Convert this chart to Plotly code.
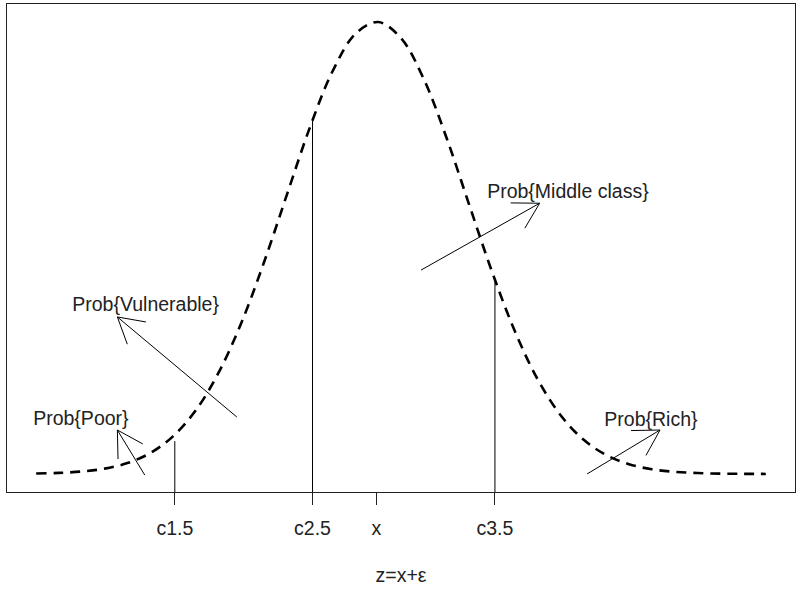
import math
import plotly.graph_objects as go

# ---------------- data ----------------
z_grid = [-4.0, -3.75, -3.5, -3.25, -3.0, -2.75, -2.5, -2.25, -2.0, -1.75, -1.5,
          -1.25, -1.0, -0.75, -0.5, -0.25, 0.0, 0.25, 0.5, 0.75, 1.0, 1.25, 1.5,
          1.75, 2.0, 2.25, 2.5, 2.75, 3.0, 3.25, 3.5, 3.75, 4.0]
density = [0.00038, 0.000936, 0.002166, 0.004707, 0.009608, 0.01843, 0.03321,
           0.0562, 0.08937, 0.1335, 0.1873, 0.2468, 0.3057, 0.3555, 0.3885,
           0.3989, 0.3847, 0.3485, 0.2966, 0.2371, 0.1781, 0.1257, 0.0833,
           0.05187, 0.03034, 0.01667, 0.008605, 0.004173, 0.001901, 0.000813,
           0.000327, 0.000124, 0.0000439]

tick_vals = [-2.48, -0.97, -0.27, 1.03]
tick_text = ["c1.5", "c2.5", "x", "c3.5"]

cut_z = [-2.48, -0.97, 1.03]
cut_height = [0.029, 0.312, 0.171]

labels = ["Prob{Poor}", "Prob{Vulnerable}", "Prob{Middle class}", "Prob{Rich}"]
label_z = [-3.51, -2.80, 1.83, 2.74]
label_y = [0.0478, 0.1485, 0.2475, 0.0469]

arrow_tail_z = [-2.81, -1.80, 0.22, 2.04]
arrow_tail_y = [-0.0009, 0.0503, 0.180, 0.0000]
arrow_tip_z = [-3.11, -3.11, 1.52, 2.84]
arrow_tip_y = [0.0388, 0.1386, 0.239, 0.0388]

# ---------------- layout geometry ----------------
W, H = 801, 589
L, R, T, B = 7, 6, 4, 97
PW, PH = W - L - R, H - T - B

zmin, zmax = min(z_grid), max(z_grid)
XR = [zmin - 0.04 * (zmax - zmin), zmax + 0.04 * (zmax - zmin)]
ymin, ymax = min(density), max(density)
YR = [ymin - 0.04 * (ymax - ymin), ymax + 0.04 * (ymax - ymin)]


def to_px(z, y):
    return (L + (z - XR[0]) / (XR[1] - XR[0]) * PW,
            T + (YR[1] - y) / (YR[1] - YR[0]) * PH)


def from_px(x, y):
    return (XR[0] + (x - L) / PW * (XR[1] - XR[0]),
            YR[1] - (y - T) / PH * (YR[1] - YR[0]))


FONT = "Liberation Sans, Arial, sans-serif"
FS = 19.5
TXT = "#222222"
fig = go.Figure()

# density curve
fig.add_trace(go.Scatter(x=z_grid, y=density, mode="lines",
                         line=dict(color="black", width=2.6, dash="10px,7px", shape="spline"),
                         hoverinfo="skip"))

# cut-off vertical lines
vx, vy = [], []
for c, h in zip(cut_z, cut_height):
    vx += [c, c, None]
    vy += [YR[0] - 0.02, h, None]
fig.add_trace(go.Scatter(x=vx, y=vy, mode="lines", line=dict(color="black", width=1),
                         hoverinfo="skip"))

# arrows (R-style open heads)
ax, ay = [], []
HEAD = 29
ANG = math.radians(30)
for sz, sy, tz, ty in zip(arrow_tail_z, arrow_tail_y, arrow_tip_z, arrow_tip_y):
    ax += [sz, tz, None]
    ay += [sy, ty, None]
    sx_p, sy_p = to_px(sz, sy)
    tx_p, ty_p = to_px(tz, ty)
    th = math.atan2(sy_p - ty_p, sx_p - tx_p)
    for s in (-1, 1):
        hx = tx_p + HEAD * math.cos(th + s * ANG)
        hy = ty_p + HEAD * math.sin(th + s * ANG)
        dz, dy = from_px(hx, hy)
        ax += [tz, dz, None]
        ay += [ty, dy, None]
fig.add_trace(go.Scatter(x=ax, y=ay, mode="lines", line=dict(color="black", width=1),
                         hoverinfo="skip"))

# labels
fig.add_trace(go.Scatter(x=label_z, y=label_y, mode="text", text=labels,
                         textposition="middle center",
                         textfont=dict(family=FONT, size=FS, color=TXT),
                         hoverinfo="skip"))

fig.update_layout(
    width=W, height=H,
    margin=dict(l=L, r=R, t=T, b=B),
    paper_bgcolor="white", plot_bgcolor="white",
    showlegend=False,
    font=dict(family=FONT, size=FS, color=TXT),
    xaxis=dict(range=XR, showgrid=False, zeroline=False,
               showline=True, linecolor="#222222", linewidth=1, mirror=True,
               tickmode="array", tickvals=tick_vals, ticktext=tick_text,
               ticks="outside", ticklen=12, tickcolor="#222222", tickwidth=1,
               ticklabelstandoff=7,
               tickfont=dict(family=FONT, size=FS, color=TXT),
               title=dict(text="z=x+ε", standoff=29,
                          font=dict(family=FONT, size=FS, color=TXT))),
    yaxis=dict(range=YR, showgrid=False, zeroline=False,
               showline=True, linecolor="#222222", linewidth=1, mirror=True,
               showticklabels=False, ticks=""),
)

fig.write_html("out.html")
